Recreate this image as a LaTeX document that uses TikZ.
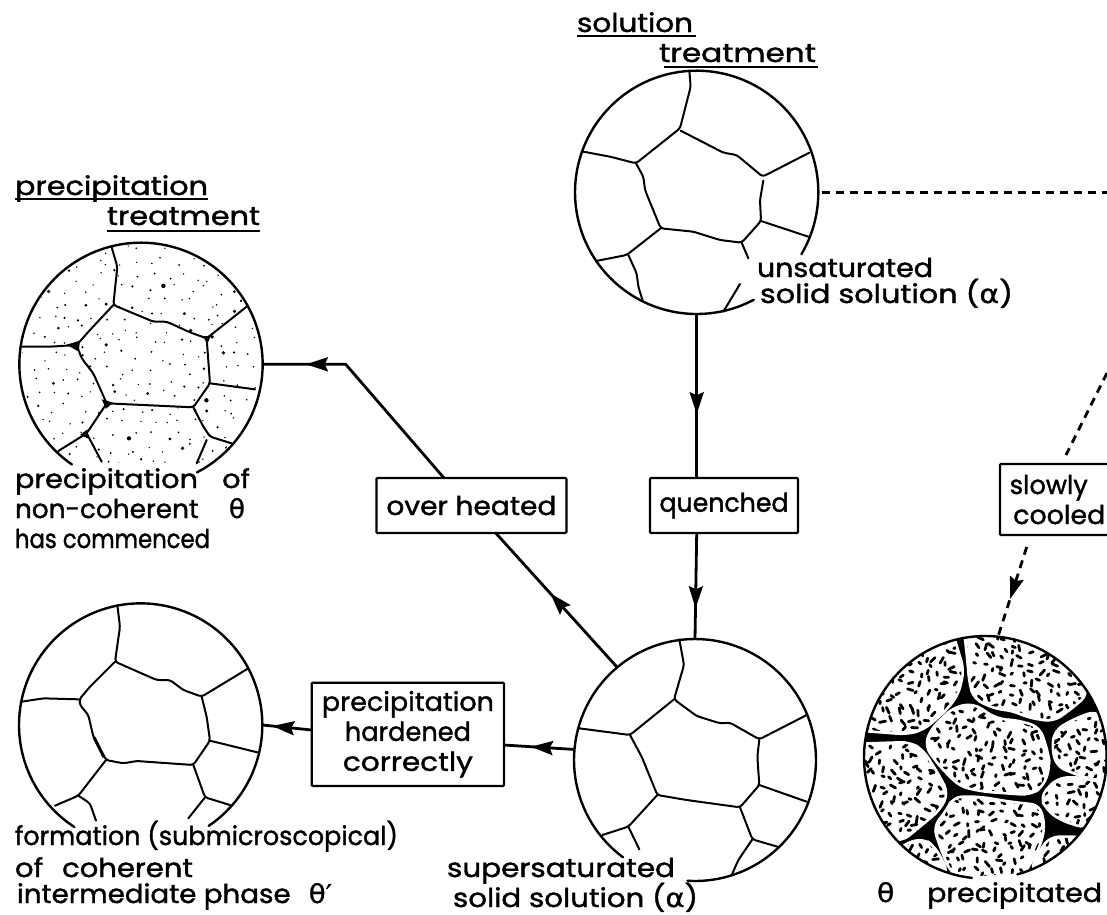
\documentclass[tikz,border=0pt]{standalone}
\usepackage{fontspec}
\setmainfont{Poppins}[FakeBold=1.4]
\newfontfamily\grk{DejaVu Sans}[FakeBold=1.0]
\usetikzlibrary{arrows.meta,decorations.markings}
\newcommand\fitw[2]{\resizebox{#1pt}{\height}{#2}}
\newcommand\thetg{{\grk θ}}
\newcommand\alphg{{\grk α}}
\newcommand\primeg{{\grk ′}}
\tikzset{
  flow/.style={line width=2.8pt,line join=round},
  dashflow/.style={line width=2.8pt,dash pattern=on 8pt off 6pt},
  tipat/.style={postaction={decorate},decoration={markings,mark=at position #1 with {\arrow{Stealth[length=22pt,width=14pt,inset=3pt]}}}},
  grain/.style={line width=2pt,line join=round,rounded corners=3pt,line cap=round},
  rim/.style={line width=2.4pt,line cap=round},
  micro/.style={circle,inner sep=0pt,outer sep=0pt,minimum size=#1},
  lbl/.style={anchor=base west,inner sep=0pt,outer sep=0pt,font=\fontsize{26}{28}\selectfont},
  box/.style={draw,line width=2.2pt,rounded corners=1pt,inner sep=0pt,outer sep=0pt,fill=white,font=\fontsize{26}{30}\selectfont,align=center},
  blob/.style={line width=2.8pt,line cap=round},
  ul/.style={line width=1.8pt},
  zoomed/.style={x=0.33333pt,y=-0.33333pt}
}
\newcommand\rimarc[5]{\draw[rim] plot[domain=#4:#5,samples=90,smooth] ({#1+#3*cos(\x)},{#2+#3*sin(\x)});}
\begin{document}
\begin{tikzpicture}[x=1pt,y=-1pt]
\useasboundingbox (0,0) rectangle (1107,914);
\fill[white] (0,0) rectangle (1107,914);
\clip (0,0) rectangle (1107,914);

% named micrographs
\node[micro=244pt] (sol) at (696.7,192.5) {};
\node[micro=243.4pt] (pre) at (141,364.3) {};
\node[micro=243.4pt] (coh) at (140.7,725) {};
\node[micro=242pt] (sup) at (695,760) {};
\node[micro=242.6pt] (the) at (985.3,757.3) {};

% boxes
\node[box,minimum width=190pt,minimum height=55pt] (over) at (471.4,505.5) {\fitw{170}{over heated}};
\node[box,minimum width=148pt,minimum height=55pt] (quen) at (724,505.5) {\fitw{129}{quenched}};
\node[box,minimum width=192.3pt,minimum height=103.3pt] (hard) at (407.9,734.3) {\fitw{172}{precipitation}\\\fitw{126}{hardened}\\\fitw{130}{correctly}};
\node[box,anchor=west,minimum height=71pt,align=left,minimum width=115pt] (slow) at (1000,499.5) {\fitw{78}{slowly}\\\hspace*{3.5pt}\fitw{92}{cooled}};

% connectors
\coordinate (bend) at (345.7,364.3);
\coordinate (overN) at (444,478);
\coordinate (overS) at (495.7,533);
\draw[flow,tipat=0.815] (overN) -- (bend) -- (pre.east);
\draw[flow,tipat=0.55] (sup.130) -- (overS);
\draw[flow,tipat=0.61] (sol.south) -- (sol.south |- quen.north);
\draw[flow,tipat=0.71] (sol.south |- quen.south) -- (sup.north);
\coordinate (hardL) at (hard.west |- 0,730);
\coordinate (hardR) at (hard.east |- 0,745);
\draw[flow,tipat=0.8] (hardL) -- (coh.east);
\draw[flow,tipat=0.62] (sup.175) -- (hardR);
\coordinate (edgeA) at (1107,192.5);
\draw[dashflow] (sol.east) ++(3,0) -- (edgeA);
\coordinate (edgeB) at (1107,373);
\coordinate (slowT) at (1066,455);
\coordinate (slowB) at (1026.7,547);
\draw[dashflow] (edgeB) -- (slowT);
\draw[dashflow,tipat=0.58] (slowB) -- (the.84);

% solution treatment micrograph
\begin{scope}[shift={(560,60)},zoomed]
\rimarc{410}{397}{365}{62}{390.6}
\draw[grain] (388,32)--(392,80)--(360,205)--(228,310)--(150,290)--(70,275);
\draw[grain] (362,212)--(490,278)--(530,285)--(608,350)--(748,278);
\draw[grain] (228,310)--(250,350)--(255,390)--(302,505)--(400,515)--(480,540)--(545,548)--(603,483)--(600,420)--(610,362);
\draw[grain] (603,483)--(745,530);
\draw[grain] (545,548)--(565,595);
\draw[grain] (302,505)--(200,585)--(108,603);
\draw[grain] (205,585)--(230,640)--(235,680)--(248,722);
\draw[grain] (540,672)--(490,755);
\end{scope}

% precipitation treatment micrograph
\begin{scope}[shift={(0,170)},zoomed]
\begin{scope}
\clip (423,583) circle[radius=358];
\clip (0,200) rectangle (900,878);
\pgfmathsetseed{11}
\foreach \i in {0,...,17}{\foreach \j in {0,...,17}{
  \pgfmathsetmacro\bx{60+\i*42+rnd*34}
  \pgfmathsetmacro\by{220+\j*40+rnd*34}
  \pgfmathsetmacro\br{0.75+2.2*rnd*rnd*rnd}
  \fill (\bx,\by) circle (\br pt);
}}
\end{scope}
\rimarc{423}{583}{365}{124.6}{422.6}
\draw[grain] (335,232)--(352,290)--(340,405)--(460,455)--(500,455)--(570,487)--(620,505)--(740,410);
\draw[grain] (340,405)--(270,480)--(230,525)--(150,530)--(62,530);
\draw[grain] (230,525)--(245,565)--(280,610)--(320,700)--(430,705)--(580,712)--(630,640)--(620,505);
\draw[grain] (630,640)--(765,658);
\draw[grain] (580,712)--(610,770)--(630,800)--(695,820);
\draw[grain] (620,810)--(590,880);
\draw[grain] (320,700)--(260,790)--(175,843);
\draw[grain] (260,790)--(305,875);
\fill (200,524)--(240,512)--(236,545)--cycle;
\fill (305,688)--(340,698)--(318,716)--cycle;
\fill (608,498)--(632,498)--(622,522)--cycle;
\fill (240,795)--(262,778)--(266,806)--cycle;
\end{scope}

% over-aged coherent micrograph
\begin{scope}[shift={(0,600)},zoomed]
\rimarc{422}{375}{365}{123}{416}
\draw[grain] (352,15)--(360,80)--(345,185)--(470,240)--(510,240)--(550,270)--(605,290)--(745,205);
\draw[grain] (345,185)--(270,260)--(238,298)--(240,315)--(265,345)--(280,410)--(318,480)--(370,490)--(410,483)--(580,495)--(630,422)--(620,350)--(605,290);
\draw[grain] (65,305)--(130,295)--(238,298);
\draw[grain] (630,422)--(772,457);
\draw[grain] (580,495)--(615,592)--(690,615);
\draw[grain] (615,592)--(565,655);
\draw[grain] (318,480)--(235,587)--(165,617);
\draw[grain] (235,587)--(270,610)--(288,662);
\draw[line width=3pt] (282,412)--(312,472);
\end{scope}

% supersaturated micrograph
\begin{scope}[shift={(540,630)},zoomed]
\rimarc{465}{390}{363}{126.5}{453.5}
\draw[grain] (418,28)--(432,105)--(402,208)--(470,258)--(540,280)--(570,278)--(658,328)--(800,255);
\draw[grain] (402,208)--(270,315)--(118,295);
\draw[grain] (270,315)--(305,380)--(352,495)--(440,510)--(600,532)--(658,465)--(652,380)--(658,328);
\draw[grain] (658,465)--(800,515);
\draw[grain] (600,532)--(637,628)--(712,650);
\draw[grain] (637,628)--(595,690)--(575,735);
\draw[grain] (352,495)--(265,590)--(187,615);
\draw[grain] (265,590)--(298,658);
\end{scope}

% theta precipitated micrograph
\newcommand\gA{(336,30)--(150,90)--(30,330)--(200,343)--(250,330)--(315,275)--(355,225)--(372,150)--cycle}
\newcommand\gB{(372,30)--(500,30)--(680,90)--(745,222)--(700,262)--(640,305)--(560,292)--(520,272)--(470,268)--(402,238)--(388,190)--(382,120)--cycle}
\newcommand\gC{(340,262)--(400,250)--(470,296)--(540,302)--(600,322)--(625,400)--(630,440)--(610,500)--(570,525)--(500,520)--(430,515)--(360,500)--(300,440)--(255,380)--(270,330)--cycle}
\newcommand\gD{(768,272)--(815,320)--(815,485)--(740,475)--(650,440)--(635,380)--(645,330)--(700,298)--cycle}
\newcommand\gE{(650,475)--(710,470)--(820,495)--(820,570)--(735,625)--(660,600)--(620,570)--(600,530)--cycle}
\newcommand\gF{(630,650)--(730,650)--(650,790)--(570,750)--(600,690)--cycle}
\newcommand\gG{(340,530)--(420,530)--(510,545)--(600,555)--(615,620)--(600,680)--(560,750)--(530,800)--(400,800)--(330,755)--(300,680)--(280,620)--(320,570)--cycle}
\newcommand\gH{(190,672)--(250,655)--(285,680)--(325,755)--(300,790)--(150,720)--cycle}
\newcommand\gI{(30,372)--(210,366)--(250,390)--(300,470)--(325,520)--(300,570)--(240,620)--(185,665)--(80,640)--(30,480)--cycle}
\begin{scope}[shift={(840,620)},zoomed]
\begin{scope}
\clip (436,412) circle[radius=364];
\fill (436,412) circle[radius=364];
\begin{scope}[rounded corners=9pt]
\fill[white] \gA; \fill[white] \gB; \fill[white] \gC; \fill[white] \gD; \fill[white] \gE;
\fill[white] \gF; \fill[white] \gG; \fill[white] \gH; \fill[white] \gI;
\end{scope}
\begin{scope}[rounded corners=9pt]
\clip \gA \gB \gC \gD \gE \gF \gG \gH \gI;
\pgfmathsetseed{7}
\foreach \i in {0,...,26}{\foreach \j in {0,...,26}{
  \pgfmathsetmacro\bx{60+\i*28+rnd*20}
  \pgfmathsetmacro\by{40+\j*28+rnd*20}
  \pgfmathsetmacro\ba{rnd*360}
  \pgfmathsetmacro\bl{6+rnd*14}
  \draw[blob] (\bx,\by) -- ++(\ba:\bl);
}}
\end{scope}
\begin{scope}[rounded corners=9pt,white,line width=2.6pt]
\draw \gA; \draw \gB; \draw \gC; \draw \gD; \draw \gE; \draw \gF; \draw \gG; \draw \gH; \draw \gI;
\end{scope}
\end{scope}
\fill[white] (395,770)--(533,760)--(540,790)--(390,790)--cycle;
\rimarc{436}{412}{364}{96.4}{434.7}
\end{scope}

% labels
\node[lbl] (t1) at (577,32) {\fitw{116}{solution}};
\node[lbl] (t2) at (659,62) {\fitw{157}{treatment}};
\draw[ul] (t1.base west) ++(0,4) -- ++(119,0);
\draw[ul] (664,67) -- ++(154,0);
\node[lbl] (t3) at (15,195) {\fitw{193}{precipitation}};
\node[lbl] (t4) at (107,225) {\fitw{153}{treatment}};
\draw[ul] (t3.base west) ++(0,4) -- ++(193,0);
\draw[ul] (t4.base west) ++(0,6) -- ++(153,0);
\node[lbl] (t5) at (757,277) {\fitw{176}{unsaturated}};
\node[lbl] (t6) at (760,303) {\fitw{253}{solid solution (\alphg)}};
\node[lbl] (t7) at (15,488) {\fitw{235}{precipitation\hspace{22pt}of}};
\node[lbl] (t8) at (15,518) {\fitw{230}{non-coherent\hspace{30pt}\thetg}};
\node[lbl] (t9) at (15,548) {\fitw{195}{has commenced}};
\node[lbl] (t10) at (15,845) {\fitw{383}{formation (submicroscopical)}};
\node[lbl] (t11) at (15,877) {\fitw{178}{of\hspace{17pt}coherent}};
\node[lbl] (t12) at (17,903) {\fitw{315}{intermediate phase\hspace{17pt}\thetg\primeg}};
\node[lbl] (t13) at (447,877) {\fitw{228}{supersaturated}};
\node[lbl] (t14) at (453,907) {\fitw{245}{solid solution (\alphg)}};
\node[lbl] (t15) at (877,902) {\fitw{225}{\thetg\hspace{30pt}precipitated}};
\end{tikzpicture}
\end{document}
